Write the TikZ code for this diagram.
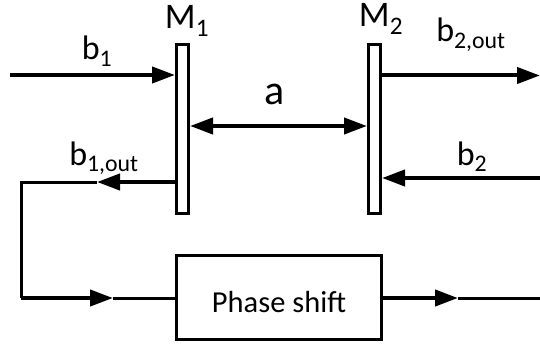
\documentclass[tikz,border=0pt]{standalone}
\usepackage{fontspec}
\setmainfont{Carlito}
\usetikzlibrary{arrows.meta}
\begin{document}
\begin{tikzpicture}[x=1pt,y=-1pt,
  mirror/.style={draw,line width=3pt,fill=white,minimum width=12pt,minimum height=169pt,inner sep=0pt},
  psbox/.style={draw,line width=3pt,minimum width=205pt,minimum height=84pt,inner sep=0pt,
    text height=29pt,text depth=0pt,font=\fontsize{30.5}{36}\selectfont},
  lbl/.style={anchor=base,inner sep=0pt,font=\fontsize{34}{40}\selectfont},
  mlbl/.style={lbl,font=\fontsize{36}{42}\selectfont},
  biglbl/.style={lbl,font=\fontsize{42}{48}\selectfont},
  beam/.style={line width=4pt},
  thinbeam/.style={line width=3pt},
  tip/.style={-{Triangle[length=23pt,width=16pt]}},
  twotips/.style={{Triangle[length=23pt,width=16pt]}-{Triangle[length=23pt,width=16pt]}}
]
\useasboundingbox (0,0) rectangle (540,350);

% mirrors and box
\node[mirror] (M1) at (182.5,129) {};
\node[mirror] (M2) at (374.5,129) {};
\node[psbox] (ps) at (279,297.5) {Phase shift};

% free ends and bends
\coordinate (b1s) at (10,75);
\coordinate (b2e) at (540,75.5);
\coordinate (b2s) at (540,178);
\coordinate (ay) at (0,126);
\coordinate (t1) at (97,182);
\coordinate (c1) at (21,182);
\coordinate (c2) at (21,298);
\coordinate (t2) at (113,298);
\coordinate (t3) at (458,298);
\coordinate (pe) at (540,298);

% beams
\draw[beam,tip] (b1s) -- (b1s -| M1.west);
\draw[beam,tip] (b2e -| M2.east) -- (b2e);
\draw[beam,tip] (b2s) -- (b2s -| M2.east);
\draw[beam,twotips] (ay -| M1.east) -- (ay -| M2.west);
\draw[beam,tip] (t1 -| M1.west) -- (t1);
\draw[thinbeam] (t1) -- (c1) -- (c2);
\draw[beam,tip] (c2) -- (t2);
\draw[thinbeam] (t2) -- (t2 -| ps.west);
\draw[beam,tip] (t3 -| ps.east) -- (t3);
\draw[thinbeam] (t3) -- (pe);

% labels
\node[mlbl] (lM1) at (187,29) {M\textsubscript{1}};
\node[mlbl] (lM2) at (381,27) {M\textsubscript{2}};
\node[lbl] (lb1) at (97,60) {b\textsubscript{1}};
\node[biglbl] (la) at (275,105) {a};
\node[lbl] (lb1o) at (104,165) {b\textsubscript{1,out}};
\node[lbl] (lb2) at (472,165) {b\textsubscript{2}};
\node[lbl] (lb2o) at (471,42) {b\textsubscript{2,out}};
\end{tikzpicture}
\end{document}
